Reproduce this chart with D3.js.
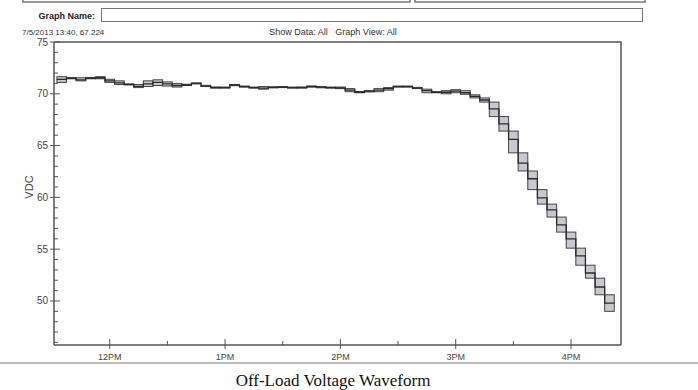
<!DOCTYPE html>
<html>
<head>
<meta charset="utf-8">
<script src="https://cdn.jsdelivr.net/npm/d3@7"></script>
<style>
    body { margin: 0; background: #fff; }
    svg { display: block; font-family: 'Liberation Sans', Arial, sans-serif; }
</style>
</head>
<body>
<svg id="chart" width="698" height="390"></svg>
<script>
'use strict';

// Sample times (5 min readings, 7/5/2013)
const times = ['11:35', '11:40', '11:45', '11:50', '11:55', '12:00', '12:05', '12:10', '12:15', '12:20',
    '12:25', '12:30', '12:35', '12:40', '12:45', '12:50', '12:55', '13:00', '13:05', '13:10',
    '13:15', '13:20', '13:25', '13:30', '13:35', '13:40', '13:45', '13:50', '13:55', '14:00',
    '14:05', '14:10', '14:15', '14:20', '14:25', '14:30', '14:35', '14:40', '14:45', '14:50',
    '14:55', '15:00', '15:05', '15:10', '15:15', '15:20', '15:25', '15:30', '15:35', '15:40',
    '15:45', '15:50', '15:55', '16:00', '16:05', '16:10', '16:15', '16:20'];

// Average VDC per interval
const avgVolts = [71.40, 71.50, 71.35, 71.50, 71.55, 71.25, 71.05, 70.90, 70.72, 70.95,
    71.10, 70.95, 70.80, 70.85, 71.00, 70.75, 70.60, 70.60, 70.85, 70.70,
    70.60, 70.55, 70.62, 70.65, 70.60, 70.60, 70.70, 70.65, 70.60, 70.58,
    70.35, 70.15, 70.25, 70.35, 70.50, 70.70, 70.70, 70.55, 70.30, 70.15,
    70.15, 70.25, 70.10, 69.75, 69.40, 68.55, 67.10, 65.60, 63.30, 61.80,
    59.95, 58.80, 57.35, 56.00, 54.35, 52.70, 51.35, 49.80];

// Min VDC per interval
const minVolts = [71.10, 71.45, 71.25, 71.45, 71.45, 71.10, 70.90, 70.85, 70.60, 70.70,
    70.80, 70.75, 70.65, 70.80, 70.95, 70.70, 70.55, 70.55, 70.78, 70.65,
    70.55, 70.45, 70.57, 70.60, 70.55, 70.55, 70.65, 70.58, 70.55, 70.50,
    70.20, 70.10, 70.18, 70.20, 70.35, 70.65, 70.65, 70.50, 70.10, 70.10,
    70.00, 70.10, 69.95, 69.60, 69.20, 67.80, 66.40, 64.30, 62.55, 60.75,
    59.35, 58.10, 56.65, 55.10, 53.45, 52.20, 50.60, 49.00];

// Max VDC per interval
const maxVolts = [71.65, 71.55, 71.55, 71.58, 71.65, 71.40, 71.25, 70.95, 70.90, 71.25,
    71.35, 71.15, 71.00, 70.92, 71.05, 70.82, 70.66, 70.65, 70.90, 70.75,
    70.65, 70.70, 70.68, 70.70, 70.65, 70.66, 70.76, 70.70, 70.65, 70.65,
    70.50, 70.22, 70.30, 70.50, 70.60, 70.75, 70.75, 70.62, 70.45, 70.20,
    70.30, 70.40, 70.30, 69.90, 69.60, 69.20, 67.80, 66.40, 64.30, 62.55,
    60.75, 59.35, 58.10, 56.65, 55.10, 53.45, 52.20, 50.60];

// Axis ticks
const yTicks = [50, 55, 60, 65, 70, 75];
const xTickTimes = ['12:00', '13:00', '14:00', '15:00', '16:00'];
const xTickLabels = ['12PM', '1PM', '2PM', '3PM', '4PM'];
const xMinorTimes = ['12:30', '13:30', '14:30', '15:30'];

// IIFE
(function () {

    const parse = d3.timeParse('%Y-%m-%d %H:%M');
    const toDate = (t) => parse('2013-07-05 ' + t);

    const data = times.map((t, i) => ({
        'time': toDate(t),
        'avg': avgVolts[i],
        'min': minVolts[i],
        'max': maxVolts[i]
    }));

    const svg = d3.select('#chart');

    // Plot box
    const plot = {'left': 54, 'top': 42, 'right': 621, 'bottom': 345};

    // Scales
    const scX = d3.scaleTime()
        .domain([toDate('11:31'), toDate('16:26')])
        .range([plot.left, plot.right]);

    const scY = d3.scaleLinear()
        .domain([45.75, 75])
        .range([plot.bottom, plot.top]);

    const halfStep = 2.5 * 60 * 1000;

    // Header: cut off input boxes at the very top
    svg.append('rect')
        .attr('x', 23).attr('y', -20).attr('width', 387).attr('height', 22)
        .attr('fill', '#fff').attr('stroke', '#777').attr('stroke-width', 1.5);
    svg.append('rect')
        .attr('x', 415).attr('y', -20).attr('width', 230).attr('height', 22)
        .attr('fill', '#fff').attr('stroke', '#777').attr('stroke-width', 1.5);

    // Graph name field
    svg.append('text')
        .attr('x', 95).attr('y', 18.5)
        .attr('text-anchor', 'end')
        .style('font-size', '9px').style('font-weight', 'bold').style('fill', '#222')
        .text('Graph Name:');
    svg.append('rect')
        .attr('x', 101.5).attr('y', 8.5).attr('width', 541).attr('height', 13)
        .attr('fill', '#fff').attr('stroke', '#777').attr('stroke-width', 1);

    // Cursor readout + view info
    svg.append('text')
        .attr('x', 22).attr('y', 34.5)
        .style('font-size', '8px').style('fill', '#333')
        .text('7/5/2013 13:40, 67.224');
    svg.append('text')
        .attr('x', 333).attr('y', 35)
        .attr('text-anchor', 'middle')
        .attr('xml:space', 'preserve')
        .style('font-size', '9px').style('fill', '#333')
        .text('Show Data: All   Graph View: All');

    // Plot frame (top + right)
    svg.append('path')
        .attr('d', `M${plot.left},${plot.top}H${plot.right}V${plot.bottom}`)
        .attr('fill', 'none').attr('stroke', '#555').attr('stroke-width', 1.5);

    // Range boxes
    svg.selectAll('.box')
        .data(data)
        .enter()
        .append('rect')
            .attr('class', 'box')
            .attr('x', (d) => scX(new Date(+d.time - halfStep)))
            .attr('width', (d) => scX(new Date(+d.time + halfStep)) - scX(new Date(+d.time - halfStep)))
            .attr('y', (d) => scY(d.max))
            .attr('height', (d) => Math.max(1, scY(d.min) - scY(d.max)))
            .style('fill', '#c8c8d0')
            .style('stroke', '#444')
            .style('stroke-width', 1);

    // Average step line
    const line = d3.line()
        .x((d) => scX(d.time))
        .y((d) => scY(d.avg))
        .curve(d3.curveStep);

    const stepData = [
        {'time': new Date(+data[0].time - halfStep), 'avg': data[0].avg}
    ].concat(data).concat([
        {'time': new Date(+data[data.length - 1].time + halfStep), 'avg': data[data.length - 1].avg}
    ]);

    svg.append('path')
        .datum(stepData)
        .attr('d', line)
        .attr('fill', 'none')
        .attr('stroke', '#2a2a2a')
        .attr('stroke-width', 1.3);

    // Y axis
    const yAxis = svg.append('g')
        .attr('class', 'y axis')
        .style('font-size', '10px');

    yAxis.append('line')
        .attr('x1', plot.left).attr('x2', plot.left)
        .attr('y1', plot.top).attr('y2', plot.bottom)
        .attr('stroke', '#555').attr('stroke-width', 1.5);

    const yMinor = d3.range(46, 75, 1).filter((v) => !yTicks.includes(v));
    yAxis.selectAll('.minor')
        .data(yMinor)
        .enter()
        .append('line')
            .attr('class', 'minor')
            .attr('x1', plot.left).attr('x2', plot.left + 4)
            .attr('y1', (d) => scY(d)).attr('y2', (d) => scY(d))
            .attr('stroke', '#555');

    yAxis.selectAll('.major')
        .data(yTicks)
        .enter()
        .append('line')
            .attr('class', 'major')
            .attr('x1', plot.left - 4).attr('x2', plot.left + 6)
            .attr('y1', (d) => scY(d)).attr('y2', (d) => scY(d))
            .attr('stroke', '#555');

    yAxis.selectAll('.label')
        .data(yTicks)
        .enter()
        .append('text')
            .attr('class', 'label')
            .attr('x', plot.left - 6)
            .attr('y', (d) => scY(d))
            .attr('dy', '0.35em')
            .attr('text-anchor', 'end')
            .style('fill', '#444')
            .text((d) => d);

    svg.append('text')
        .attr('transform', `translate(33, ${scY(61)}) rotate(-90)`)
        .attr('text-anchor', 'middle')
        .style('font-size', '11px').style('fill', '#444')
        .text('VDC');

    // X axis
    const xAxis = svg.append('g')
        .attr('class', 'x axis')
        .style('font-size', '9px');

    xAxis.append('line')
        .attr('x1', plot.left).attr('x2', plot.right)
        .attr('y1', plot.bottom).attr('y2', plot.bottom)
        .attr('stroke', '#555').attr('stroke-width', 1.5);

    xAxis.selectAll('.minor')
        .data(xMinorTimes)
        .enter()
        .append('line')
            .attr('class', 'minor')
            .attr('x1', (d) => scX(toDate(d))).attr('x2', (d) => scX(toDate(d)))
            .attr('y1', plot.bottom - 4).attr('y2', plot.bottom)
            .attr('stroke', '#555');

    xAxis.selectAll('.major')
        .data(xTickTimes)
        .enter()
        .append('line')
            .attr('class', 'major')
            .attr('x1', (d) => scX(toDate(d))).attr('x2', (d) => scX(toDate(d)))
            .attr('y1', plot.bottom - 6).attr('y2', plot.bottom + 4)
            .attr('stroke', '#555');

    xAxis.selectAll('.label')
        .data(xTickTimes)
        .enter()
        .append('text')
            .attr('class', 'label')
            .attr('x', (d) => scX(toDate(d)))
            .attr('y', plot.bottom + 15)
            .attr('text-anchor', 'middle')
            .style('fill', '#444')
            .text((d, i) => xTickLabels[i]);

    // Separator + caption
    svg.append('line')
        .attr('x1', 0).attr('x2', 698)
        .attr('y1', 363).attr('y2', 363)
        .attr('stroke', '#bbb').attr('stroke-width', 2);

    svg.append('text')
        .attr('x', 333).attr('y', 386)
        .attr('text-anchor', 'middle')
        .style('font-family', "'Liberation Serif', 'Times New Roman', serif")
        .style('font-size', '17px').style('fill', '#111')
        .text('Off-Load Voltage Waveform');

})();
</script>
</body>
</html>
